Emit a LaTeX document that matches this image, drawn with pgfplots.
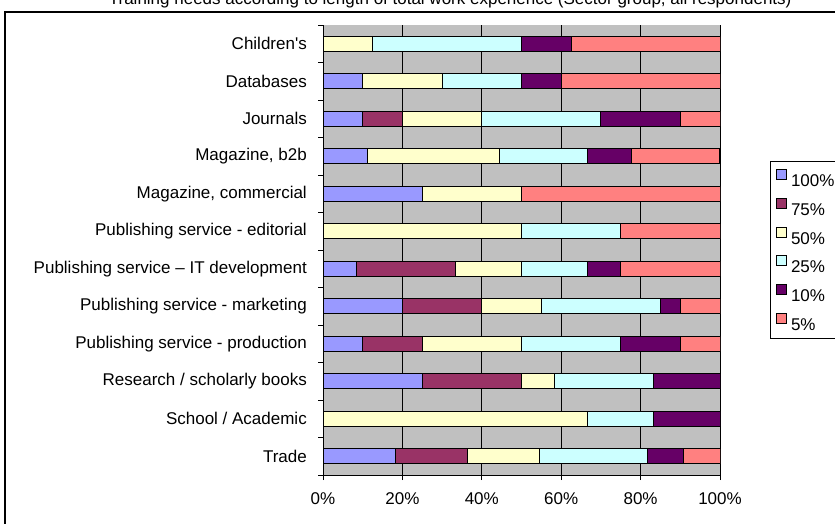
\documentclass[border=0pt]{standalone}
\usepackage{pgfplots}
\pgfplotsset{compat=1.18}
\usepackage{fontspec}
\setmainfont{Liberation Sans}
\definecolor{c100}{HTML}{9999FF}
\definecolor{c75}{HTML}{993366}
\definecolor{c50}{HTML}{FFFFCC}
\definecolor{c25}{HTML}{CCFFFF}
\definecolor{c10}{HTML}{660066}
\definecolor{c5}{HTML}{FF8080}
\definecolor{bg}{HTML}{C0C0C0}
\begin{document}
\begin{tikzpicture}[x=1pt,y=1pt,font=\fontsize{17}{20}\selectfont]
\useasboundingbox (0,0) rectangle (835,-523);
\clip (0,0) rectangle (835,-523);
\draw[line width=1.3pt] (5,-12) rectangle (850,-540);
\node[anchor=base east] at (795,-4.5) {Training needs according to length of total work experience (Sector group, all respondents)};
\begin{axis}[
  scale only axis, width=397pt, height=450pt,
  at={(323pt,-475pt)}, anchor=south west,
  xbar stacked, bar width=15pt,
  xmin=0, xmax=100, ymin=-0.5, ymax=11.5, y dir=reverse,
  axis background/.style={fill=bg},
  axis x line*=bottom, axis y line*=left,
  axis line style={black, line width=0.8pt},
  xtick={0,20,40,60,80,100},
  xticklabels={0\%,20\%,40\%,60\%,80\%,100\%},
  xmajorgrids, grid style={black, line width=0.8pt},
  tick align=outside, major tick length=5pt,
  tick style={black, line width=0.8pt},
  ytick={-0.5,0.5,...,11.5},
  yticklabels={},
  extra y ticks={0,1,2,3,4,5,6,7,8,9,10,11},
  extra y tick labels={Children\textquotesingle s, Databases, Journals, {Magazine, b2b}, {Magazine, commercial}, Publishing service - editorial, Publishing service – IT development, Publishing service - marketing, Publishing service - production, Research / scholarly books, School / Academic, Trade},
  extra y tick style={tick style={draw=none}, yticklabel style={anchor=east, inner sep=0pt, xshift=-11pt}},
  xticklabel style={anchor=north, inner sep=0pt, yshift=-12pt},
  every axis plot/.append style={draw=black, line width=1pt},
  legend style={at={(1.126,0.698)}, anchor=north west, draw=black, line width=0.8pt, fill=white,
    inner xsep=6pt, inner ysep=8pt, row sep=11.4pt, column sep=4pt,
    nodes={inner sep=0pt, text height=12pt, text depth=0pt, anchor=west}},
  legend cell align=left,
  legend image code/.code={\draw[#1,draw=black,line width=0.6pt] (0pt,1pt) rectangle (10pt,11pt);},
]
\addplot[fill=c100] coordinates {(0,0) (10,1) (10,2) (11.11,3) (25,4) (0,5) (8.33,6) (20,7) (10,8) (25,9) (0,10) (18.18,11)};
\addplot[fill=c75] coordinates {(0,0) (0,1) (10,2) (0,3) (0,4) (0,5) (25,6) (20,7) (15,8) (25,9) (0,10) (18.18,11)};
\addplot[fill=c50] coordinates {(12.5,0) (20,1) (20,2) (33.33,3) (25,4) (50,5) (16.67,6) (15,7) (25,8) (8.33,9) (66.67,10) (18.18,11)};
\addplot[fill=c25] coordinates {(37.5,0) (20,1) (30,2) (22.22,3) (0,4) (25,5) (16.67,6) (30,7) (25,8) (25,9) (16.67,10) (27.27,11)};
\addplot[fill=c10] coordinates {(12.5,0) (10,1) (20,2) (11.11,3) (0,4) (0,5) (8.33,6) (5,7) (15,8) (16.67,9) (16.67,10) (9.09,11)};
\addplot[fill=c5] coordinates {(37.5,0) (40,1) (10,2) (22.22,3) (50,4) (25,5) (25,6) (10,7) (10,8) (0,9) (0,10) (9.1,11)};
\legend{100\%,75\%,50\%,25\%,10\%,5\%}
\end{axis}
\end{tikzpicture}
\end{document}
